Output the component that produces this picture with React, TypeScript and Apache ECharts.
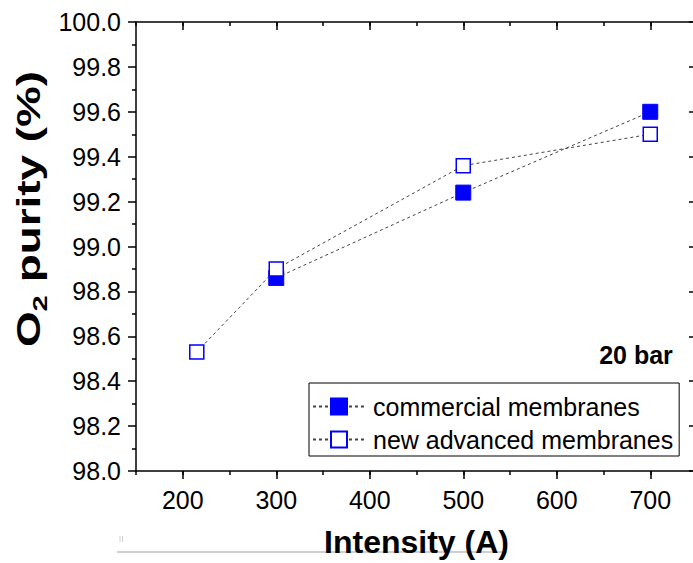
import { useEffect, useRef } from 'react';
import * as echarts from 'echarts';

// ---- data ----
const commercialCurrent = [300, 500, 700];
const commercialPurity = [98.86, 99.24, 99.6];
const advancedCurrent = [215, 300, 500, 700];
const advancedPurity = [98.53, 98.9, 99.36, 99.5];
const xMajorTicks = [200, 300, 400, 500, 600, 700];
const seriesNames = ['commercial membranes', 'new advanced membranes'];
const xTitle = 'Intensity (A)';
const pressureNote = '20 bar';

const FONT = 'Arial, "Liberation Sans", sans-serif';
const BLACK = '#000';
const BLUE = '#0000ff';
const LINE = '#444';
const CHART_W = 720;

export default function App() {
  const ref = useRef<HTMLDivElement>(null);

  useEffect(() => {
    document.body.style.margin = '0';
    if (!ref.current) return;
    const chart = echarts.init(ref.current, null, { renderer: 'svg' });

    const axisLineStyle = { color: BLACK, width: 1.5 };
    const tickLine = { color: BLACK, width: 1.5 };

    const xBase = {
      type: 'value' as const,
      min: 150,
      max: 750,
      splitLine: { show: false },
    };

    const option: any = {
      animation: false,
      grid: { left: 136, right: CHART_W - 697, top: 22, bottom: 91, containLabel: false },
      xAxis: [
        {
          ...xBase,
          position: 'bottom',
          interval: 50,
          axisLine: { show: true, onZero: false, lineStyle: axisLineStyle },
          axisTick: { show: true, inside: false, length: 4, lineStyle: tickLine },
          axisLabel: {
            show: true,
            margin: 16,
            fontSize: 25,
            color: BLACK,
            fontFamily: FONT,
            formatter: (v: number) => (Math.round(v) % 100 === 0 ? String(Math.round(v)) : ''),
          },
          name: xTitle,
          nameLocation: 'middle',
          nameGap: 55,
          nameMoveOverlap: false,
          nameTextStyle: { fontSize: 32, fontWeight: 'bold', color: BLACK, fontFamily: FONT },
        },
        {
          ...xBase,
          position: 'bottom',
          axisLine: { show: false, onZero: false },
          axisTick: { show: true, inside: false, length: 8, customValues: xMajorTicks, lineStyle: tickLine },
          axisLabel: { show: false },
        },
        {
          ...xBase,
          position: 'top',
          interval: 50,
          axisLine: { show: true, onZero: false, lineStyle: axisLineStyle },
          axisTick: { show: true, inside: true, length: 4, lineStyle: tickLine },
          axisLabel: { show: false },
        },
        {
          ...xBase,
          position: 'top',
          axisLine: { show: false, onZero: false },
          axisTick: { show: true, inside: true, length: 8, customValues: xMajorTicks, lineStyle: tickLine },
          axisLabel: { show: false },
        },
      ],
      yAxis: [
        {
          type: 'value',
          position: 'left',
          min: 98,
          max: 100,
          interval: 0.2,
          splitLine: { show: false },
          axisLine: { show: true, onZero: false, lineStyle: axisLineStyle },
          axisTick: { show: true, inside: false, length: 8, lineStyle: tickLine },
          minorTick: { show: true, splitNumber: 2, length: 4, lineStyle: tickLine },
          axisLabel: {
            show: true,
            margin: 15,
            fontSize: 25,
            color: BLACK,
            fontFamily: FONT,
            formatter: (v: number) => v.toFixed(1),
          },
        },
        {
          type: 'value',
          position: 'right',
          min: 98,
          max: 100,
          interval: 0.2,
          splitLine: { show: false },
          axisLine: { show: true, onZero: false, lineStyle: axisLineStyle },
          axisTick: { show: true, inside: true, length: 8, lineStyle: tickLine },
          minorTick: { show: true, splitNumber: 2, length: 4, lineStyle: tickLine },
          axisLabel: { show: false },
        },
      ],
      legend: {
        orient: 'vertical',
        left: 309,
        top: 383,
        itemWidth: 52,
        itemHeight: 20,
        itemGap: 8,
        padding: [11, 6, 4, 3],
        borderColor: BLACK,
        borderWidth: 1,
        selectedMode: false,
        textStyle: { fontSize: 25, color: BLACK, fontFamily: FONT, padding: [0, 0, 0, 3] },
        data: seriesNames,
      },
      series: [
        {
          type: 'line',
          name: seriesNames[0],
          xAxisIndex: 0,
          yAxisIndex: 0,
          data: commercialCurrent.map((c, i) => [c, commercialPurity[i]]),
          symbol: 'rect',
          symbolSize: 15,
          showSymbol: true,
          silent: true,
          itemStyle: { color: BLUE, borderColor: BLUE, borderWidth: 1 },
          lineStyle: { color: LINE, width: 1, type: [3, 3] },
          emphasis: { disabled: true },
        },
        {
          type: 'line',
          name: seriesNames[1],
          xAxisIndex: 0,
          yAxisIndex: 0,
          data: advancedCurrent.map((c, i) => [c, advancedPurity[i]]),
          symbol: 'rect',
          symbolSize: 14,
          showSymbol: true,
          silent: true,
          itemStyle: { color: '#fff', borderColor: BLUE, borderWidth: 1.5 },
          lineStyle: { color: LINE, width: 1, type: [3, 3] },
          emphasis: { disabled: true },
        },
      ],
      graphic: [
        {
          type: 'line',
          z: -10,
          shape: { x1: 117, y1: 552, x2: 507, y2: 552 },
          style: { stroke: '#cfcfcf', lineWidth: 2 },
        },
        {
          type: 'line',
          shape: { x1: 120, y1: 536, x2: 120, y2: 542 },
          style: { stroke: '#cfcfcf', lineWidth: 1 },
        },
        {
          type: 'line',
          shape: { x1: 122.5, y1: 536, x2: 122.5, y2: 542 },
          style: { stroke: '#cfcfcf', lineWidth: 1 },
        },
        {
          type: 'text',
          x: 28,
          y: 209,
          rotation: Math.PI / 2,
          scaleX: 1.39,
          style: {
            text: '{b|O}{s|2}{b| purity (%)}',
            align: 'center',
            verticalAlign: 'middle',
            fill: BLACK,
            rich: {
              b: { fontSize: 33, fontWeight: 'bold', fontFamily: FONT, lineHeight: 33, verticalAlign: 'top', fill: BLACK },
              s: { fontSize: 21, fontWeight: 'bold', fontFamily: FONT, lineHeight: 21, verticalAlign: 'top', padding: [18, 0, 0, 0], fill: BLACK },
            },
          },
        },
        {
          type: 'text',
          x: 636,
          y: 355,
          style: {
            text: pressureNote,
            fontSize: 25,
            fontWeight: 'bold',
            fontFamily: FONT,
            align: 'center',
            verticalAlign: 'middle',
            fill: BLACK,
          },
        },
      ],
    };

    chart.setOption(option);
    return () => chart.dispose();
  }, []);

  return (
    <div style={{ width: 693, height: 563, overflow: 'hidden' }}>
      <div ref={ref} style={{ width: CHART_W, height: 563 }} />
    </div>
  );
}
